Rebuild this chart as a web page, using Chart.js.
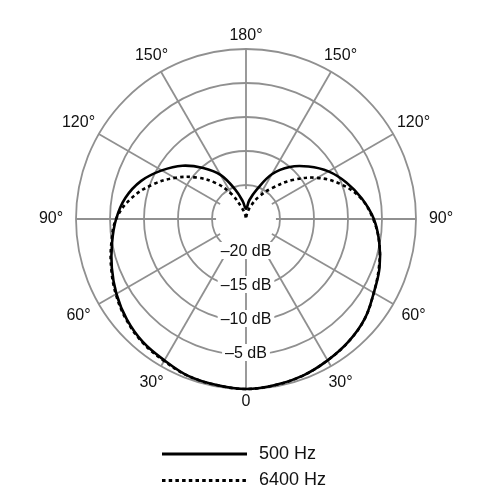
<!DOCTYPE html>
<html>
<head>
<meta charset="utf-8">
<script src="https://cdn.jsdelivr.net/npm/chart.js@4.4.1/dist/chart.umd.min.js"></script>
<style>
  html, body { margin: 0; padding: 0; background: #fff; }
  #wrap { width: 492px; height: 500px; }
</style>
</head>
<body>
<div id="wrap"><canvas id="polarChart" width="492" height="500"></canvas></div>
<script>
// angle of each sample, 0 = front (bottom), going round the left side first
const angles = [0, 10, 20, 30, 40, 50, 60, 70, 80, 90, 100, 110,
                120, 130, 140, 150, 160, 170, 180, 190, 200, 210, 220, 230,
                240, 250, 260, 270, 280, 290, 300, 310, 320, 330, 340, 350];

// relative level in dB
const response500 = [0, -0.2, -0.4, -1.0, -1.4, -2.1, -3.0, -4.0, -5.0, -5.9, -7.0, -8.6,
                     -10.7, -12.8, -15.2, -17.5, -20.4, -22.4, -23.5, -22.2, -20.4, -17.4, -15.0, -13.0,
                     -11.0, -9.3, -7.7, -6.2, -5.1, -4.1, -3.3, -2.2, -1.5, -1.0, -0.5, -0.2];
const response6400 = [0, -0.2, -0.4, -0.9, -1.3, -2.0, -2.9, -3.9, -4.9, -5.9, -7.8, -10.3,
                      -12.9, -15.5, -18.1, -20.8, -23.3, -24.4, -25, -24.3, -23.0, -21.2, -19.1, -16.1,
                      -12.9, -10.1, -7.8, -6.3, -5.1, -4.2, -3.3, -2.2, -1.5, -1.0, -0.5, -0.2];

// rim labels (mirrored on both sides) and ring labels
const labeledAngles = [0, 30, 60, 90, 120, 150, 180];
const angleTickLabels = ['0', '30°', '60°', '90°', '120°', '150°', '180°'];
const dbTicks = [-20, -15, -10, -5];
const dbTickLabels = ['–20 dB', '–15 dB', '–10 dB', '–5 dB'];

const gridColor = '#909090';
const gridWidth = 1.8;
const FONT = '"Liberation Sans", Arial, Helvetica, sans-serif';

function angleText(a) {
  if (a % 30 !== 0) return '';
  const shown = a <= 180 ? a : 360 - a;
  return angleTickLabels[labeledAngles.indexOf(shown)];
}

// spokes stop at the inner ring, labels for rings and rim, plus the legend
const polarDecor = {
  id: 'polarDecor',
  beforeDatasetsDraw(chart) {
    const {ctx} = chart;
    const scale = chart.scales.r;
    const cx = scale.xCenter;
    const cy = scale.yCenter;
    const R = scale.drawingArea;

    ctx.save();
    ctx.fillStyle = '#fff';
    ctx.beginPath();
    ctx.arc(cx, cy, scale.getDistanceFromCenterForValue(-20) - 4, 0, Math.PI * 2);
    ctx.fill();

    ctx.font = '16px ' + FONT;
    ctx.textAlign = 'center';
    ctx.textBaseline = 'middle';
    dbTicks.forEach((v, i) => {
      const y = cy + scale.getDistanceFromCenterForValue(v) - 1.5;
      const w = ctx.measureText(dbTickLabels[i]).width;
      ctx.fillStyle = '#fff';
      ctx.fillRect(cx - w / 2 - 3, y - 9.5, w + 6, 17);
      ctx.fillStyle = '#111';
      ctx.fillText(dbTickLabels[i], cx, y);
    });

    chart.data.labels.forEach((a, i) => {
      const txt = angleText(a);
      if (!txt) return;
      const dist = R + 13 + 12 * Math.abs(Math.sin(a * Math.PI / 180));
      const p = scale.getPointPosition(i, dist);
      ctx.fillText(txt, p.x, p.y);
    });
    ctx.restore();
  },
  afterDraw(chart) {
    const {ctx} = chart;
    ctx.save();
    ctx.font = '18px ' + FONT;
    ctx.textAlign = 'left';
    ctx.textBaseline = 'middle';
    chart.data.datasets.forEach((ds, i) => {
      const y = 454 + i * 26.5;
      ctx.strokeStyle = ds.borderColor;
      ctx.lineWidth = 3;
      ctx.setLineDash(ds.borderDash || []);
      ctx.beginPath();
      ctx.moveTo(162, y);
      ctx.lineTo(247, y);
      ctx.stroke();
      ctx.setLineDash([]);
      ctx.fillStyle = '#111';
      ctx.fillText(ds.label, 259, y);
    });
    ctx.restore();
  }
};

new Chart(document.getElementById('polarChart'), {
  type: 'radar',
  data: {
    labels: angles,
    datasets: [{
      label: '500 Hz',
      data: response500,
      borderColor: '#000',
      borderWidth: 2.6,
      borderJoinStyle: 'round',
      pointRadius: 0,
      tension: 0.38,
      fill: false
    }, {
      label: '6400 Hz',
      data: response6400,
      borderColor: '#000',
      borderWidth: 2.6,
      borderDash: [3.5, 3.2],
      pointRadius: 0,
      tension: 0.38,
      fill: false
    }]
  },
  options: {
    responsive: false,
    animation: false,
    layout: { padding: { left: 76, right: 76, top: 49, bottom: 111 } },
    plugins: {
      legend: { display: false },
      tooltip: { enabled: false }
    },
    scales: {
      r: {
        min: -25,
        max: 0,
        startAngle: 180,
        ticks: { display: false, stepSize: 5 },
        grid: { circular: true, color: gridColor, lineWidth: gridWidth },
        angleLines: {
          display: true,
          color: gridColor,
          lineWidth: ctx => (angles[ctx.index] % 30 === 0 ? gridWidth : 0)
        },
        pointLabels: { display: false }
      }
    }
  },
  plugins: [polarDecor]
});
</script>
</body>
</html>
